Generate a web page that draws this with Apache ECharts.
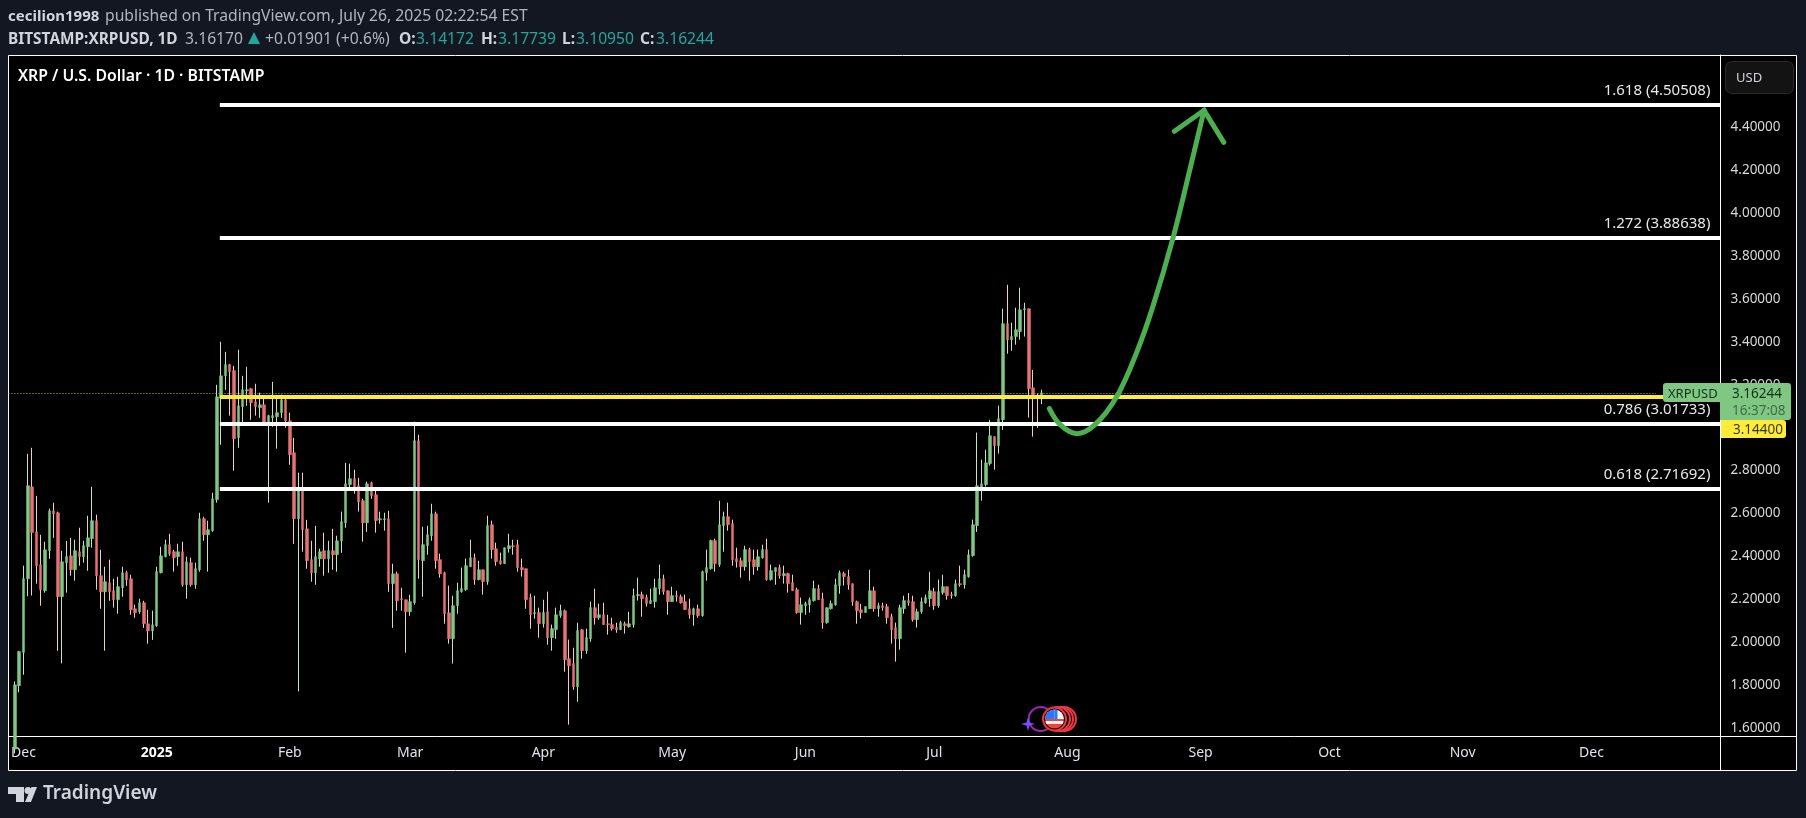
<!DOCTYPE html>
<html>
<head>
<meta charset="utf-8">
<title>XRP / U.S. Dollar</title>
<script src="https://cdn.jsdelivr.net/npm/echarts@6/dist/echarts.min.js"></script>
<style>
html, body { margin: 0; padding: 0; background: #131722; }
#chart { width: 1806px; height: 818px; }
</style>
</head>
<body>
<div id="chart"></div>
<script>
// daily candles, first one is 2024-11-29, last one 2025-07-26
var opens = [
	1.50,1.796,1.951,2.295,2.724,2.514,2.360,2.239,2.426,2.612,
	2.603,2.211,2.370,2.402,2.337,2.421,2.398,2.444,2.482,2.566,
	2.309,2.234,2.276,2.239,2.197,2.253,2.323,2.295,2.155,2.141,
	2.183,2.085,2.052,2.076,2.323,2.398,2.454,2.421,2.398,2.421,
	2.267,2.370,2.267,2.337,2.575,2.500,2.519,2.664,3.138,3.242,
	3.294,3.266,2.953,3.098,3.172,3.182,3.121,3.093,3.107,3.014,
	3.046,3.051,3.070,3.130,3.032,2.883,2.575,2.706,2.528,2.384,
	2.323,2.388,2.426,2.388,2.426,2.407,2.472,2.556,2.734,2.762,
	2.729,2.659,2.556,2.743,2.687,2.570,2.570,2.575,2.272,2.318,
	2.202,2.197,2.141,2.183,2.939,2.379,2.449,2.496,2.598,2.384,
	2.323,2.136,2.015,2.169,2.235,2.244,2.351,2.393,2.291,2.337,
	2.281,2.547,2.435,2.379,2.365,2.435,2.449,2.454,2.347,2.342,
	2.207,2.132,2.137,2.085,2.141,2.020,2.057,2.123,2.146,1.922,
	1.899,1.791,2.057,1.959,2.015,2.160,2.113,2.127,2.085,2.081,
	2.067,2.057,2.085,2.071,2.081,2.216,2.221,2.207,2.179,2.188,
	2.249,2.295,2.239,2.188,2.216,2.211,2.188,2.155,2.127,2.155,
	2.123,2.323,2.342,2.473,2.361,2.543,2.585,2.552,2.389,2.379,
	2.351,2.431,2.384,2.351,2.393,2.431,2.291,2.328,2.347,2.309,
	2.319,2.277,2.244,2.137,2.169,2.174,2.193,2.249,2.202,2.090,
	2.155,2.174,2.263,2.319,2.305,2.272,2.188,2.150,2.137,2.155,
	2.239,2.155,2.169,2.165,2.118,2.067,2.015,2.155,2.193,2.188,
	2.104,2.141,2.183,2.202,2.235,2.169,2.230,2.258,2.221,2.216,
	2.272,2.267,2.305,2.403,2.543,2.724,2.734,2.832,2.958,2.916,
	3.037,3.485,3.410,3.425,3.448,3.550,3.555,3.186,3.149,3.14172
];
var closes = [
	1.80,1.955,2.295,2.729,2.511,2.356,2.244,2.430,2.612,2.598,
	2.211,2.374,2.398,2.337,2.426,2.398,2.449,2.486,2.566,2.309,
	2.234,2.281,2.234,2.197,2.258,2.323,2.290,2.150,2.136,2.183,
	2.085,2.052,2.080,2.328,2.402,2.454,2.412,2.393,2.421,2.267,
	2.374,2.267,2.342,2.575,2.500,2.524,2.668,3.144,3.242,3.294,
	3.261,2.948,3.102,3.177,3.177,3.116,3.098,3.107,3.018,3.056,
	3.056,3.070,3.130,3.032,2.874,2.575,2.706,2.524,2.379,2.323,
	2.398,2.421,2.388,2.426,2.407,2.472,2.561,2.738,2.762,2.724,
	2.654,2.556,2.738,2.682,2.566,2.575,2.575,2.272,2.318,2.192,
	2.197,2.141,2.188,2.939,2.384,2.454,2.500,2.598,2.379,2.318,
	2.132,2.015,2.169,2.239,2.249,2.356,2.393,2.291,2.337,2.281,
	2.543,2.431,2.375,2.365,2.440,2.449,2.445,2.347,2.337,2.197,
	2.127,2.137,2.085,2.137,2.020,2.062,2.127,2.146,1.917,1.889,
	1.791,2.053,1.959,2.020,2.160,2.113,2.127,2.081,2.081,2.062,
	2.057,2.090,2.076,2.085,2.216,2.221,2.202,2.179,2.193,2.253,
	2.295,2.235,2.188,2.216,2.211,2.183,2.151,2.127,2.155,2.123,
	2.328,2.347,2.473,2.365,2.547,2.585,2.547,2.384,2.375,2.351,
	2.431,2.375,2.351,2.398,2.431,2.291,2.333,2.347,2.309,2.319,
	2.272,2.239,2.137,2.174,2.179,2.197,2.249,2.197,2.090,2.160,
	2.179,2.267,2.323,2.305,2.267,2.188,2.146,2.137,2.165,2.239,
	2.155,2.169,2.160,2.113,2.057,2.015,2.160,2.193,2.183,2.104,
	2.141,2.188,2.207,2.239,2.169,2.235,2.258,2.216,2.216,2.272,
	2.267,2.314,2.407,2.547,2.729,2.738,2.836,2.962,2.916,3.042,
	3.485,3.410,3.425,3.457,3.550,3.555,3.182,3.144,3.144,3.16244
];
var lows = [
	1.48,1.765,1.847,2.213,2.217,2.272,2.169,2.230,2.388,2.486,
	1.959,1.900,2.230,2.309,2.286,2.356,2.370,2.332,2.440,2.244,
	2.155,1.959,2.192,2.160,2.132,2.211,2.262,2.127,2.113,2.132,
	2.066,1.992,2.010,2.070,2.320,2.395,2.402,2.328,2.356,2.258,
	2.202,2.258,2.248,2.328,2.472,2.328,2.514,2.650,2.920,3.177,
	3.056,2.799,2.906,3.014,3.102,3.037,3.056,3.046,3.009,2.650,
	3.004,2.902,3.046,3.000,2.827,2.458,1.769,2.421,2.342,2.281,
	2.267,2.351,2.309,2.323,2.337,2.328,2.416,2.533,2.710,2.692,
	2.608,2.468,2.514,2.668,2.510,2.552,2.519,2.234,2.066,2.146,
	2.146,1.950,2.122,2.174,2.295,2.211,2.407,2.472,2.342,2.300,
	2.085,1.992,1.899,2.132,2.230,2.239,2.351,2.267,2.288,2.221,
	2.267,2.389,2.356,2.361,2.365,2.417,2.407,2.328,2.305,2.155,
	2.062,2.109,2.020,2.067,1.987,1.959,2.015,2.113,1.861,1.614,
	1.777,1.721,1.922,1.945,2.001,2.081,2.104,2.080,2.034,2.053,
	2.043,2.057,2.039,2.067,2.067,2.193,2.118,2.165,2.179,2.160,
	2.221,2.221,2.127,2.188,2.188,2.179,2.150,2.109,2.076,2.113,
	2.118,2.286,2.337,2.328,2.351,2.421,2.519,2.356,2.347,2.300,
	2.333,2.286,2.314,2.333,2.389,2.286,2.286,2.267,2.295,2.272,
	2.230,2.238,2.132,2.081,2.127,2.137,2.188,2.196,2.062,2.085,
	2.151,2.169,2.225,2.263,2.244,2.169,2.085,2.109,2.137,2.155,
	2.141,2.118,2.146,2.085,1.992,1.908,1.964,2.132,2.169,2.095,
	2.067,2.132,2.178,2.165,2.150,2.160,2.221,2.197,2.202,2.211,
	2.258,2.249,2.300,2.398,2.514,2.659,2.725,2.823,2.804,2.879,
	2.990,3.345,3.359,3.387,3.411,3.425,3.047,2.958,2.999,3.1095
];
var highs = [
	1.816,1.959,2.356,2.878,2.906,2.682,2.500,2.468,2.622,2.650,
	2.608,2.426,2.472,2.486,2.477,2.533,2.472,2.589,2.724,2.594,
	2.430,2.351,2.384,2.295,2.304,2.351,2.332,2.314,2.174,2.202,
	2.192,2.150,2.146,2.351,2.444,2.477,2.505,2.430,2.458,2.468,
	2.398,2.393,2.370,2.603,2.584,2.566,2.696,3.200,3.401,3.354,
	3.298,3.289,3.364,3.242,3.284,3.186,3.205,3.163,3.135,3.060,
	3.214,3.135,3.154,3.135,3.070,2.953,2.790,2.790,2.570,2.472,
	2.542,2.435,2.510,2.472,2.528,2.496,2.608,2.836,2.832,2.804,
	2.766,2.668,2.748,2.748,2.710,2.608,2.603,2.612,2.365,2.328,
	2.253,2.197,2.220,3.028,2.967,2.538,2.542,2.645,2.608,2.412,
	2.328,2.263,2.216,2.277,2.347,2.389,2.477,2.412,2.379,2.337,
	2.589,2.566,2.463,2.417,2.440,2.505,2.477,2.477,2.389,2.342,
	2.225,2.216,2.160,2.197,2.235,2.081,2.160,2.174,2.151,2.011,
	1.973,2.090,2.060,2.062,2.188,2.249,2.179,2.183,2.127,2.113,
	2.090,2.099,2.095,2.141,2.249,2.300,2.235,2.221,2.249,2.295,
	2.361,2.314,2.240,2.258,2.239,2.221,2.221,2.202,2.160,2.174,
	2.333,2.431,2.477,2.482,2.659,2.608,2.650,2.571,2.440,2.393,
	2.449,2.440,2.431,2.431,2.454,2.482,2.361,2.347,2.361,2.356,
	2.323,2.314,2.253,2.207,2.188,2.207,2.286,2.267,2.230,2.161,
	2.193,2.295,2.333,2.328,2.337,2.273,2.193,2.178,2.165,2.337,
	2.258,2.183,2.183,2.178,2.132,2.090,2.174,2.216,2.228,2.216,
	2.155,2.207,2.221,2.328,2.253,2.291,2.314,2.258,2.234,2.291,
	2.356,2.337,2.431,2.571,2.977,2.851,2.897,3.037,2.959,3.103,
	3.555,3.667,3.490,3.560,3.653,3.583,3.556,3.270,3.160,3.17739
];
var fibRatios = ['1.618', '1.272', '0.786', '0.618'];
var fibLevels = [4.50508, 3.88638, 3.01733, 2.71692];
var yellowLevel = 3.144;
var lastPrice = 3.16244;
var priceTicks = [1.6, 1.8, 2.0, 2.2, 2.4, 2.6, 2.8, 3.0, 3.2, 3.4, 3.6, 3.8, 4.0, 4.2, 4.4];
var monthNames = ['2025', 'Feb', 'Mar', 'Apr', 'May', 'Jun', 'Jul', 'Aug', 'Sep', 'Oct', 'Nov', 'Dec'];
// the drawn arrow, x as days since 2024-12-01
var curveDays = [238.8, 241.3, 245.2, 249.4, 254.5, 259.1, 262.9, 267.6, 271.5, 274.8];
var curvePrices = [3.089, 3.014, 2.972, 3.014, 3.146, 3.350, 3.566, 3.887, 4.204, 4.481];
var headDays = [267.9, 274.8, 279.4];
var headPrices = [4.383, 4.481, 4.331];

var GREEN = '#81c784', RED = '#e57373';
var FONT = '"Noto Sans", sans-serif';
var DAY_FIRST = -3, DAY_LAST = 395; // axis runs 2024-11-28 .. 2025-12-31
var DAY0 = Date.UTC(2024, 11, 1);
var DAY_MS = 86400000;

var categories = [];
for (var d = DAY_FIRST; d <= DAY_LAST; d++) {
	categories.push(new Date(DAY0 + d * DAY_MS).toISOString().slice(0, 10));
}

var wicks = [], bodies = [];
categories.forEach(function (c, i) {
	var n = i - 1; // first candle sits on the second category
	if (n < 0 || n >= opens.length) {
		wicks.push('-');
		bodies.push('-');
		return;
	}
	wicks.push([opens[n], closes[n], lows[n], highs[n]]);
	bodies.push([opens[n], closes[n], Math.min(opens[n], closes[n]), Math.max(opens[n], closes[n])]);
});

function toPairs(xs, ys) {
	return xs.map(function (x, i) { return [x, ys[i]]; });
}

var fibLines = fibLevels.map(function (v, i) {
	return [{
		coord: [45.7, v],
		lineStyle: { color: '#ffffff', width: 4, type: 'solid' },
		label: { show: true, formatter: fibRatios[i] + ' (' + v.toFixed(5) + ')' }
	}, { coord: [DAY_LAST, v] }];
});
fibLines.push([{
	coord: [45.7, yellowLevel],
	lineStyle: { color: '#ffeb3b', width: 4, type: 'solid' },
	label: { show: false }
}, { coord: [DAY_LAST, yellowLevel] }]);
fibLines.push([{
	coord: [DAY_FIRST - 0.5, lastPrice],
	lineStyle: { color: GREEN, width: 1, type: [1, 2] },
	label: { show: false }
}, { coord: [380, lastPrice] }]);

var option = {
	animation: false,
	backgroundColor: '#131722',
	grid: { left: 8.46, top: 55, width: 399 * 4.296, height: 681 },
	xAxis: [{
		type: 'category',
		data: categories,
		boundaryGap: true,
		axisLine: { show: true, lineStyle: { color: '#ffffff', width: 1 } },
		axisTick: { show: false },
		axisLabel: {
			margin: 10,
			color: '#e0e3eb',
			fontFamily: FONT,
			fontSize: 14,
			interval: function (i, v) { return v.slice(8) === '01'; },
			formatter: function (v) {
				if (v === '2024-12-01') return 'Dec';
				var name = monthNames[+v.slice(5, 7) - 1];
				return name === '2025' ? '{b|2025}' : name;
			},
			rich: { b: { fontWeight: 'bold', fontSize: 14, color: '#ffffff', fontFamily: FONT } }
		}
	}, {
		type: 'value',
		show: false,
		min: DAY_FIRST - 0.5,
		max: DAY_LAST + 0.5
	}],
	yAxis: {
		type: 'value',
		position: 'right',
		offset: -2,
		min: 1.5612,
		max: 4.739,
		splitLine: { show: false },
		axisLine: { show: true, onZero: false, lineStyle: { color: '#ffffff', width: 1 } },
		axisTick: { show: false },
		axisLabel: {
			margin: 10,
			padding: [3, 0, 0, 0],
			color: '#d8d8d8',
			fontFamily: FONT,
			fontSize: 13.5,
			customValues: priceTicks,
			formatter: function (v) { return v.toFixed(5); }
		}
	},
	series: [{
		name: 'levels',
		type: 'line',
		xAxisIndex: 1,
		z: 1,
		symbol: 'none',
		data: [[DAY_FIRST, lastPrice]],
		lineStyle: { width: 0 },
		markLine: {
			silent: true,
			symbol: 'none',
			label: {
				position: 'insideEndTop',
				distance: [10, 6.5],
				color: '#e8e8e8',
				fontFamily: FONT,
				fontSize: 15
			},
			data: fibLines
		}
	}, {
		name: 'wicks',
		type: 'candlestick',
		z: 3,
		barWidth: 1,
		data: wicks,
		itemStyle: {
			color: '#c4e3c6', color0: '#f7c9c9',
			borderColor: '#c4e3c6', borderColor0: '#f7c9c9', borderColorDoji: '#c4e3c6',
			borderWidth: 1
		}
	}, {
		name: 'bodies',
		type: 'candlestick',
		z: 4,
		barWidth: 3,
		data: bodies,
		itemStyle: {
			color: GREEN, color0: RED,
			borderColor: GREEN, borderColor0: RED, borderColorDoji: GREEN,
			borderWidth: 0.5
		}
	}, {
		name: 'curve',
		type: 'line',
		xAxisIndex: 1,
		z: 5,
		symbol: 'none',
		smooth: 0.35,
		data: toPairs(curveDays, curvePrices),
		lineStyle: { color: '#4caf50', width: 5, cap: 'round' }
	}, {
		name: 'head',
		type: 'line',
		xAxisIndex: 1,
		z: 5,
		symbol: 'none',
		data: toPairs(headDays, headPrices),
		lineStyle: { color: '#4caf50', width: 5, cap: 'round', join: 'miter' }
	}]
};

var chart = echarts.init(document.getElementById('chart'));
chart.setOption(option);

function label(x, y, text, size, color, extra) {
	var st = { x: x, y: y, text: text, fontFamily: FONT, fontSize: size, fill: color, verticalAlign: 'middle' };
	for (var k in extra) st[k] = extra[k];
	return { type: 'text', z: 60, style: st };
}

function box(x, y, w, h, fill, r) {
	return { type: 'rect', z: 55, shape: { x: x, y: y, width: w, height: h, r: r || 0 }, style: { fill: fill } };
}

function stroke(x1, y1, x2, y2) {
	return { type: 'line', z: -1, shape: { x1: x1, y1: y1, x2: x2, y2: y2 }, style: { stroke: '#ffffff', lineWidth: 1 } };
}

function ring(cx, cy, r, color, w) {
	return { type: 'circle', z: 30, shape: { cx: cx, cy: cy, r: r }, style: { fill: '#000', stroke: color, lineWidth: w } };
}

var TEAL = '#26a69a', MUTED = '#b2b5be', STRONG = '#d1d4dc';
var bold = { fontWeight: 'bold' };
var priceY = Math.round(chart.convertToPixel({ yAxisIndex: 0 }, lastPrice));

chart.setOption({
	graphic: [
		// chart frame
		{ type: 'rect', z: -2, shape: { x: 8.5, y: 55.5, width: 1788, height: 715 }, style: { fill: '#000', stroke: '#fff', lineWidth: 1 } },
		stroke(1720.5, 736, 1720.5, 771),
		stroke(1720, 736.5, 1797, 736.5),
		// header
		label(8, 17, 'cecilion1998', 15, STRONG, bold),
		label(105, 17, 'published on TradingView.com, July 26, 2025 02:22:54 EST', 15.7, MUTED),
		label(8, 40, 'BITSTAMP:XRPUSD, 1D', 15.4, STRONG, bold),
		label(185, 40, '3.16170', 15.7, MUTED),
		{ type: 'polygon', z: 60, shape: { points: [[248, 44], [260, 44], [254, 32]] }, style: { fill: TEAL } },
		label(265, 40, '+0.01901 (+0.6%)', 15.7, MUTED),
		label(399, 40, 'O:', 15.5, STRONG, bold),
		label(416, 40, '3.14172', 15.7, TEAL),
		label(481, 40, 'H:', 15.5, STRONG, bold),
		label(498, 40, '3.17739', 15.7, TEAL),
		label(562, 40, 'L:', 15.5, STRONG, bold),
		label(576, 40, '3.10950', 15.7, TEAL),
		label(640, 40, 'C:', 15.5, STRONG, bold),
		label(656, 40, '3.16244', 15.7, TEAL),
		label(18, 76, 'XRP / U.S. Dollar · 1D · BITSTAMP', 15.8, '#ffffff', { fontWeight: 600 }),
		// currency button
		{ type: 'rect', z: 20, shape: { x: 1725.5, y: 61.5, width: 68, height: 32, r: 6 }, style: { fill: '#131313', stroke: '#2a2a2a', lineWidth: 1 } },
		label(1736, 78, 'USD', 13, '#d1d4dc'),
		// price tags
		box(1663, priceY - 10, 58, 19, GREEN, [3, 0, 0, 3]),
		box(1720, priceY - 10, 71, 37, GREEN, [0, 3, 3, 0]),
		label(1668, priceY + 1, 'XRPUSD', 13, '#14301a'),
		label(1732, priceY + 1, '3.16244', 13.5, '#14301a'),
		label(1732, priceY + 18, '16:37:08', 13.5, '#3c6e42'),
		box(1721, priceY + 27, 65, 18, '#ffeb3b', [0, 3, 3, 0]),
		label(1733, priceY + 37, '3.14400', 13.5, '#3a3a10'),
		// event markers
		ring(1040.7, 719, 12, '#9c27b0', 2),
		{ type: 'polygon', z: 31, shape: { points: [[1028, 717], [1029.5, 722.5], [1035, 724], [1029.5, 725.5], [1028, 731], [1026.5, 725.5], [1021, 724], [1026.5, 722.5]] }, style: { fill: '#7c4dff' } },
		ring(1064, 719, 12, '#f23645', 2),
		ring(1061, 719, 12, '#f23645', 2),
		ring(1058, 719, 12, '#f23645', 2),
		ring(1054.5, 719, 11.5, '#f23645', 2),
		{
			type: 'circle', z: 32, shape: { cx: 1054.5, cy: 719, r: 9.5 },
			style: {
				fill: {
					type: 'linear', x: 0, y: 0, x2: 0, y2: 1,
					colorStops: [
						{ offset: 0, color: '#f7f7f7' }, { offset: 0.5, color: '#f7f7f7' },
						{ offset: 0.5, color: '#f44336' }, { offset: 0.62, color: '#f44336' },
						{ offset: 0.62, color: '#f7f7f7' }, { offset: 0.75, color: '#f7f7f7' },
						{ offset: 0.75, color: '#f44336' }, { offset: 1, color: '#f44336' }
					]
				}
			}
		},
		{ type: 'sector', z: 33, shape: { cx: 1054.5, cy: 719, r: 9.5, r0: 0, startAngle: Math.PI, endAngle: Math.PI * 1.5 }, style: { fill: '#2979ff' } },
		{ type: 'rect', z: 33, shape: { x: 1054.5, y: 709.5, width: 3, height: 9.5 }, style: { fill: '#2979ff' } },
		// TradingView logo
		{ type: 'polygon', z: 40, shape: { points: [[8, 787], [24, 787], [24, 802], [16, 802], [16, 794], [8, 794]] }, style: { fill: '#d1d4dc' } },
		{ type: 'circle', z: 40, shape: { cx: 28, cy: 790.5, r: 3.5 }, style: { fill: '#d1d4dc' } },
		{ type: 'polygon', z: 40, shape: { points: [[31, 802], [25, 802], [31.5, 787], [37, 787]] }, style: { fill: '#d1d4dc' } },
		label(43, 794, 'TradingView', 19, '#d1d4dc', { fontWeight: 600 })
	]
});
</script>
</body>
</html>
